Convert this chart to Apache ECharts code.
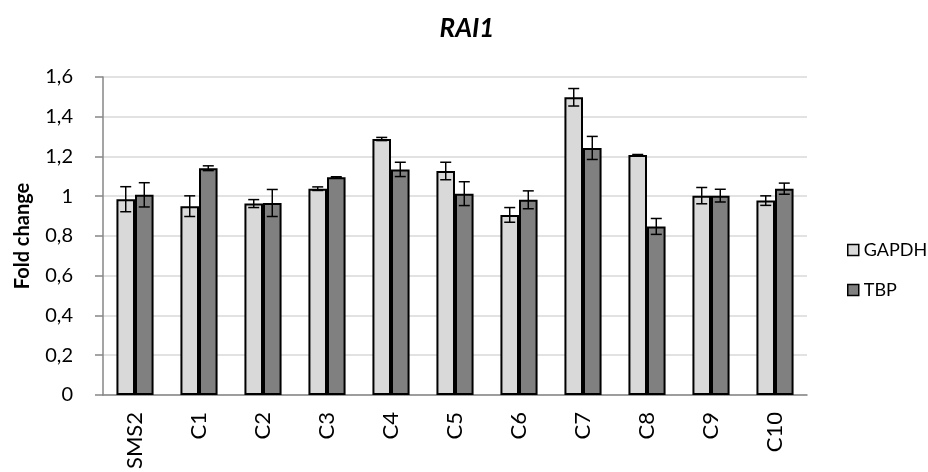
<!DOCTYPE html>
<html>
<head>
<meta charset="utf-8">
<script src="https://cdn.jsdelivr.net/npm/echarts@6/dist/echarts.min.js"></script>
<style>
  html, body { margin: 0; padding: 0; background: #fff; }
  #chart { width: 928px; height: 472px; }
</style>
</head>
<body>
<div id="chart"></div>
<script>
// RAI1 expression, normalised to two reference genes
const categories = ['SMS2', 'C1', 'C2', 'C3', 'C4', 'C5', 'C6', 'C7', 'C8', 'C9', 'C10'];
const gapdh    = [0.985, 0.950, 0.963, 1.038, 1.288, 1.127, 0.906, 1.498, 1.207, 1.003, 0.978];
const gapdhErr = [0.063, 0.052, 0.020, 0.009, 0.008, 0.044, 0.037, 0.044, 0.003, 0.041, 0.024];
const tbp      = [1.007, 1.141, 0.966, 1.095, 1.135, 1.013, 0.982, 1.243, 0.848, 1.003, 1.038];
const tbpErr   = [0.061, 0.012, 0.068, 0.003, 0.036, 0.060, 0.045, 0.058, 0.040, 0.032, 0.028];
const seriesNames = ['GAPDH', 'TBP'];
const yTicks = [0, 0.2, 0.4, 0.6, 0.8, 1, 1.2, 1.4, 1.6];

const FONT = 'Lato, "Open Sans", sans-serif';
const BAR_FRAC = 0.29; // bar width as a share of the category band

function errorBars(values, errs, side) {
  return {
    type: 'custom',
    name: side < 0 ? 'gapdh-err' : 'tbp-err',
    z: 5,
    silent: true,
    data: values.map((v, i) => [i, v, errs[i]]),
    renderItem: function (params, api) {
      const i = api.value(0);
      const v = api.value(1);
      const e = api.value(2);
      const band = api.size([1, 0])[0];
      const dx = side * band * BAR_FRAC / 2;
      const hi = api.coord([i, v + e]);
      const lo = api.coord([i, v - e]);
      const x = hi[0] + dx;
      const cap = 5.5;
      const style = { stroke: '#000', lineWidth: 1.5 };
      return {
        type: 'group',
        children: [
          { type: 'line', shape: { x1: x, y1: hi[1], x2: x, y2: lo[1] }, style: style },
          { type: 'line', shape: { x1: x - cap, y1: hi[1], x2: x + cap, y2: hi[1] }, style: style },
          { type: 'line', shape: { x1: x - cap, y1: lo[1], x2: x + cap, y2: lo[1] }, style: style }
        ]
      };
    }
  };
}

const chart = echarts.init(document.getElementById('chart'), null, { renderer: 'canvas' });
chart.setOption({
  animation: false,
  backgroundColor: '#fff',
  title: {
    text: 'RAI1',
    left: 462,
    textAlign: 'center',
    top: 11,
    textStyle: { fontFamily: FONT, fontSize: 26, fontWeight: 'bold', fontStyle: 'italic', color: '#000' }
  },
  legend: {
    data: seriesNames,
    orient: 'vertical',
    left: 847,
    top: 241,
    padding: 0,
    itemWidth: 11,
    itemHeight: 11,
    itemGap: 22,
    icon: 'rect',
    itemStyle: { borderColor: '#000', borderWidth: 1.5 },
    textStyle: { fontFamily: FONT, fontSize: 18, color: '#000' }
  },
  grid: { left: 103, right: 121, top: 77, bottom: 75, containLabel: false },
  xAxis: {
    type: 'category',
    data: categories,
    axisLine: { lineStyle: { color: '#868686', width: 1.5 } },
    axisTick: { length: 8, lineStyle: { color: '#868686', width: 1.5 } },
    axisLabel: { rotate: 90, margin: 17, fontFamily: FONT, fontSize: 22, color: '#000' }
  },
  yAxis: {
    type: 'value',
    min: 0,
    max: 1.6,
    interval: 0.2,
    name: 'Fold change',
    nameLocation: 'middle',
    nameGap: 70,
    nameTextStyle: { fontFamily: FONT, fontSize: 20, fontWeight: 'bold', color: '#000' },
    axisLine: { show: true, lineStyle: { color: '#868686', width: 1.5 } },
    axisTick: { show: true, length: 8, lineStyle: { color: '#868686', width: 1.5 } },
    splitLine: { lineStyle: { color: '#d9d9d9', width: 1.5 } },
    axisLabel: {
      margin: 30,
      fontFamily: FONT,
      fontSize: 20,
      color: '#000',
      formatter: function (v) {
        const t = yTicks.find(k => Math.abs(k - v) < 1e-9);
        return String(+(t !== undefined ? t : v).toFixed(1)).replace('.', ',');
      }
    }
  },
  series: [
    {
      name: seriesNames[0],
      type: 'bar',
      data: gapdh,
      barWidth: (BAR_FRAC * 100) + '%',
      barGap: '0%',
      itemStyle: { color: '#d9d9d9', borderColor: '#000', borderWidth: 2 }
    },
    {
      name: seriesNames[1],
      type: 'bar',
      data: tbp,
      barWidth: (BAR_FRAC * 100) + '%',
      barGap: '0%',
      itemStyle: { color: '#808080', borderColor: '#000', borderWidth: 2 }
    },
    errorBars(gapdh, gapdhErr, -1),
    errorBars(tbp, tbpErr, 1)
  ]
});
</script>
</body>
</html>
